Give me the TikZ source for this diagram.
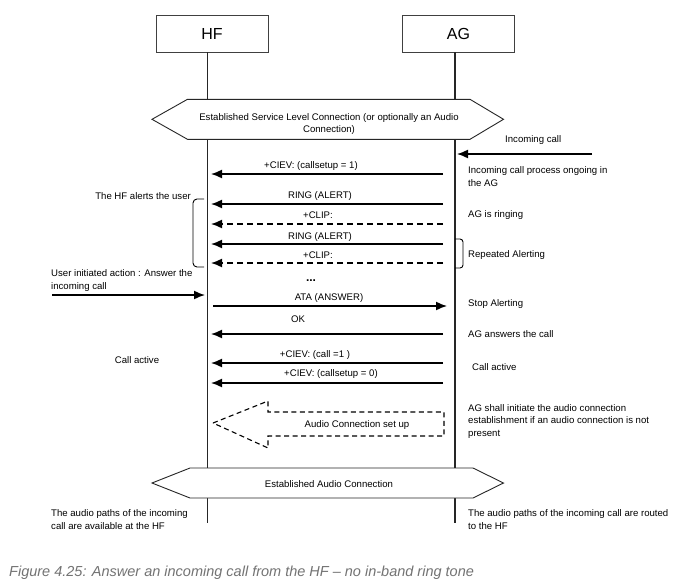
\documentclass[tikz,border=0pt]{standalone}
\usepackage{fontspec}
\setmainfont{Liberation Sans}
\usetikzlibrary{arrows.meta}

\tikzset{
  actor/.style={draw=black!75, line width=0.9pt, minimum width=112pt, minimum height=37pt, font=\fontsize{16}{18}\selectfont},
  life/.style={line width=1.1pt, color=black!85},
  band/.style={draw=black!85, fill=white, line width=0.9pt},
  msg/.style={line width=1.5pt, -{Latex[length=11pt,width=9pt]}},
  optmsg/.style={msg, dash pattern=on 6pt off 4pt},
  lbl/.style={inner sep=0pt, font=\fontsize{9.6}{12.8}\selectfont},
  note/.style={lbl, anchor=west, align=left}
}

\begin{document}
\begin{tikzpicture}[x=1pt, y=-1pt]
\useasboundingbox[fill=white] (0,0) rectangle (680,587);

% entities
\node[actor] (hf) at (212,33.5) {HF};
\node[actor] (ag) at (458.5,33.5) {AG};

% lifelines
\coordinate (hftop) at (207.5,52);
\coordinate (hfend) at (207.5,523);
\coordinate (agtop) at (455,52);
\coordinate (agend) at (455,523);
\draw[life] (hftop) -- (hfend);
\draw[life] (agtop) -- (agend);

% message ends
\coordinate (hfin) at (211,0);
\coordinate (agin) at (447,0);

% service level connection
\draw[band] (152,119.3) -- (187.5,99.3) -- (470,99.3) -- (503.5,119.3) -- (470,139.3) -- (187.5,139.3) -- cycle;
\node[lbl, align=center] (slc) at (329,124) {Established Service Level Connection (or optionally an Audio\\Connection)};

% incoming call
\node[lbl, anchor=west] (inclbl) at (505,140) {Incoming call};
\coordinate (incstart) at (592,154);
\coordinate (incend) at (457,154);
\draw[msg] (incstart) -- (incend);
\node[note] (incproc) at (468,176.5) {Incoming call process ongoing in\\the AG};

% alerting
\node[lbl] (ciev1lbl) at (311,166) {+CIEV: (callsetup = 1)};
\coordinate (ciev1) at (443,174);
\draw[msg] (ciev1) -- (ciev1 -| hfin);

\node[lbl, anchor=east] (alerts) at (191,196) {The HF alerts the user};
\node[lbl] (ring1lbl) at (320,196) {RING (ALERT)};
\coordinate (ring1) at (443,204);
\draw[msg] (ring1) -- (ring1 -| hfin);
\node[note] (ringing) at (468,215) {AG is ringing};
\node[lbl] (clip1lbl) at (318,215) {+CLIP:};
\coordinate (clip1) at (443,224);
\draw[optmsg] (clip1) -- (clip1 -| hfin);

\node[lbl] (ring2lbl) at (320,237) {RING (ALERT)};
\coordinate (ring2) at (443,244);
\draw[msg] (ring2) -- (ring2 -| hfin);
\node[note] (repeat) at (468,255) {Repeated Alerting};
\node[lbl] (clip2lbl) at (318,255) {+CLIP:};
\coordinate (clip2) at (443,263);
\draw[optmsg] (clip2) -- (clip2 -| hfin);

% brackets
\draw[line width=0.9pt, rounded corners=4pt] (204,199) -- (193,199) -- (193,267) -- (204,267);
\draw[line width=0.9pt, rounded corners=3pt] (455,239) -- (463,239) -- (463,268) -- (455,268);

% answering
\node[note] (useract) at (51,280.5) {User initiated action : Answer the\\incoming call};
\coordinate (userstart) at (52,295);
\coordinate (userend) at (205,295);
\draw[msg] (userstart) -- (userend);
\node[lbl, font=\fontsize{12}{12}\selectfont\bfseries] (dots) at (311,281) {...};

\node[lbl] (atalbl) at (329,298) {ATA (ANSWER)};
\coordinate (ata) at (213,306);
\draw[msg] (ata) -- (ata -| agin);
\node[note] (stop) at (468,304) {Stop Alerting};

\node[lbl] (oklbl) at (298,319) {OK};
\coordinate (ok) at (443,334);
\draw[msg] (ok) -- (ok -| hfin);
\node[note] (answers) at (468,334) {AG answers the call};

\node[lbl] (activehf) at (137,360) {Call active};
\node[lbl] (ciev2lbl) at (315,355) {+CIEV: (call =1 )};
\coordinate (ciev2) at (443,363);
\draw[msg] (ciev2) -- (ciev2 -| hfin);
\node[note] (activeag) at (472,367) {Call active};
\node[lbl] (ciev3lbl) at (331,374) {+CIEV: (callsetup = 0)};
\coordinate (ciev3) at (443,383);
\draw[msg] (ciev3) -- (ciev3 -| hfin);

% audio connection set up
\draw[line width=1.1pt, dash pattern=on 5pt off 3.5pt] (213,423) -- (268,401) -- (268,412) -- (444,412) -- (444,436) -- (268,436) -- (268,448) -- cycle;
\node[lbl] (acsetup) at (357,425) {Audio Connection set up};
\node[note] (aginit) at (468,421.5) {AG shall initiate the audio connection\\establishment if an audio connection is not\\present};

% audio connection
\draw[band] (152,483) -- (190,468) -- (473,468) -- (503.5,483) -- (473,498) -- (190,498) -- cycle;
\node[lbl] (ac) at (329,484) {Established Audio Connection};

\node[note] (pathhf) at (51,519.5) {The audio paths of the incoming\\call are available at the HF};
\node[note] (pathag) at (468,519.5) {The audio paths of the incoming call are routed\\to the HF};

% caption
\node[inner sep=0pt, anchor=west, color=black!55, font=\fontsize{14.5}{16}\selectfont\itshape] (caption) at (9,573) {Figure 4.25: Answer an incoming call from the HF – no in-band ring tone};
\end{tikzpicture}
\end{document}
